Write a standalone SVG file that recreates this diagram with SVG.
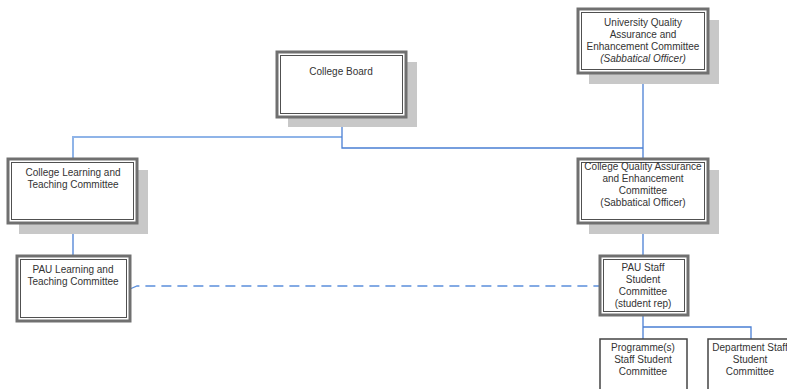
<svg xmlns="http://www.w3.org/2000/svg" width="787" height="389" viewBox="0 0 787 389">
<style>
.sh{fill:#c8c8c8}
.bo{fill:#fff;stroke:#707070;stroke-width:3}
.bi{fill:none;stroke:#505050;stroke-width:1}
.bs{fill:#fff;stroke:#444;stroke-width:1.5}
text{font-family:"Liberation Sans",Arial,sans-serif;font-size:10px;fill:#333;text-anchor:middle}
.it{font-style:italic}
.c{fill:none;stroke:#4a7fd4;stroke-width:1.3}
.cl{fill:none;stroke:#8fb4e8;stroke-width:2}
.cd{fill:none;stroke:#5b8fdc;stroke-width:1.3;stroke-dasharray:10,6}
</style>
<rect width="787" height="389" fill="#fff"/>
<g id="connectors">
<path class="cl" d="M342 137 H73 V159"/>
<path class="c" d="M342 117 V148 H643"/>
<path class="c" d="M643 73 V159"/>
<path class="c" d="M73 223 V256"/>
<path class="c" d="M643 223 V256"/>
<path class="c" d="M643 315 V339"/>
<path class="c" d="M643 327 H751 V339"/>
<path class="cd" d="M130 289 L137 286 H600"/>
</g>
<g id="college-board">
<rect class="sh" x="288" y="62" width="129" height="65"/>
<rect class="bo" x="277" y="52" width="129" height="65"/>
<rect class="bi" x="280.5" y="55.5" width="122" height="58"/>
<text x="341" y="75">College Board</text>
</g>
<g id="college-learning">
<rect class="sh" x="19" y="170" width="129" height="64"/>
<rect class="bo" x="8" y="159" width="129" height="64"/>
<rect class="bi" x="11.5" y="162.5" width="122" height="57"/>
<text x="73" y="176">College Learning and</text>
<text x="73" y="188">Teaching Committee</text>
</g>
<g id="university-qa">
<rect class="sh" x="589" y="20" width="130" height="64"/>
<rect class="bo" x="578" y="9" width="130" height="64"/>
<rect class="bi" x="581.5" y="12.5" width="123" height="57"/>
<text x="643" y="26">University Quality</text>
<text x="643" y="38">Assurance and</text>
<text x="643" y="50">Enhancement Committee</text>
<text class="it" x="643" y="62">(Sabbatical Officer)</text>
</g>
<g id="college-qa">
<rect class="sh" x="589" y="170" width="130" height="64"/>
<rect class="bo" x="578" y="159" width="130" height="64"/>
<rect class="bi" x="581.5" y="162.5" width="123" height="57"/>
<text x="643" y="170">College Quality Assurance</text>
<text x="643" y="182">and Enhancement</text>
<text x="643" y="194">Committee</text>
<text x="643" y="206">(Sabbatical Officer)</text>
</g>
<g id="pau-learning">
<rect class="bo" x="17" y="256" width="113" height="65"/>
<rect class="bi" x="20.5" y="259.5" width="106" height="58"/>
<text x="73" y="273">PAU Learning and</text>
<text x="73" y="285">Teaching Committee</text>
</g>
<g id="pau-staff">
<rect class="bo" x="600" y="256" width="88" height="59"/>
<rect class="bi" x="603.5" y="259.5" width="81" height="52"/>
<text x="643" y="271">PAU Staff</text>
<text x="643" y="283">Student</text>
<text x="643" y="295">Committee</text>
<text x="643" y="307">(student rep)</text>
</g>
<g id="programme">
<rect class="bs" x="600" y="339" width="87" height="60"/>
<text x="643" y="351">Programme(s)</text>
<text x="643" y="363">Staff Student</text>
<text x="643" y="375">Committee</text>
</g>
<g id="department">
<rect class="bs" x="708" y="339" width="90" height="60"/>
<text x="750" y="351">Department Staff</text>
<text x="750" y="363">Student</text>
<text x="750" y="375">Committee</text>
</g>
</svg>
